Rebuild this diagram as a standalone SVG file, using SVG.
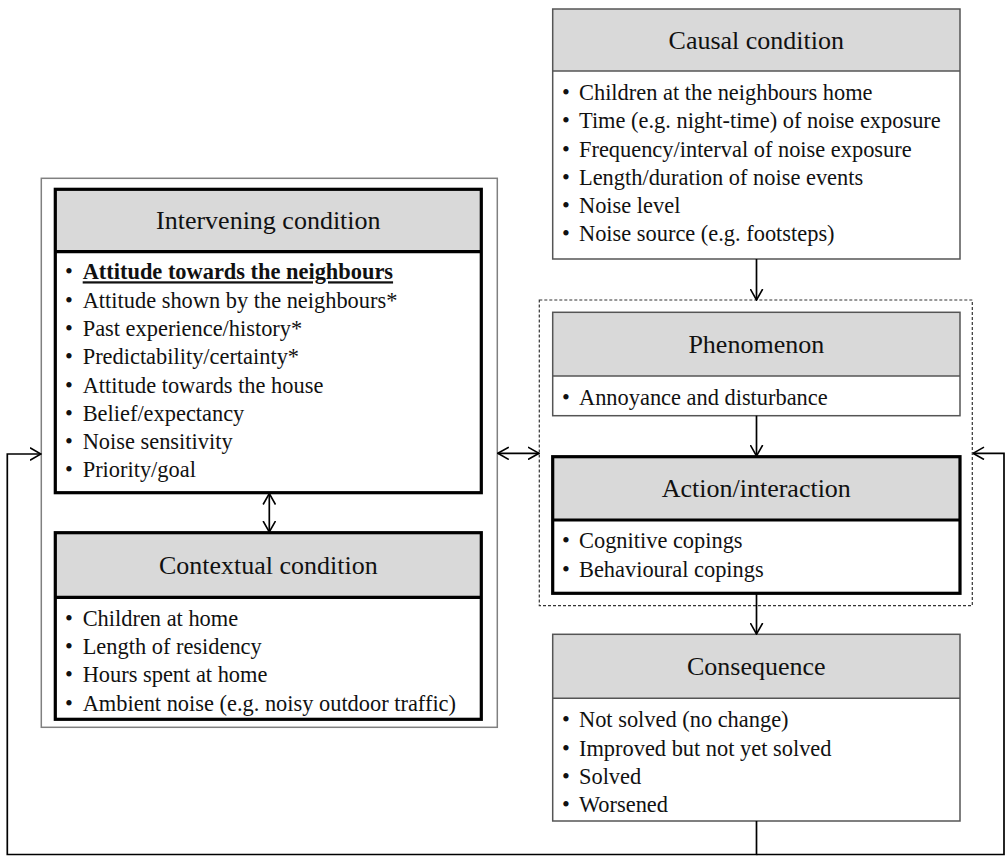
<svg xmlns="http://www.w3.org/2000/svg" width="1005" height="861" viewBox="0 0 1005 861">
<defs>
<marker id="ah" viewBox="0 0 12 14" refX="11.5" refY="7" markerWidth="12" markerHeight="14" orient="auto-start-reverse" markerUnits="userSpaceOnUse">
<path d="M0.5,0.8 L11.5,7 L0.5,13.2" fill="none" stroke="#000" stroke-width="1.6"/>
</marker>
<style>
.t{font-family:"Liberation Serif","Times New Roman",serif;font-size:26px;fill:#111;text-anchor:middle}
.b{font-family:"Liberation Serif","Times New Roman",serif;font-size:22.4px;fill:#111}
.hd{fill:#d9d9d9}
.thin{fill:none;stroke:#555;stroke-width:1.5}
.thick{fill:none;stroke:#000;stroke-width:3.2}
.c{fill:none;stroke:#000;stroke-width:1.7}
</style>
</defs>
<rect width="1005" height="861" fill="#fff"/>

<!-- outer group box -->
<rect x="41.3" y="178.3" width="456" height="549" fill="none" stroke="#808080" stroke-width="1.5"/>
<!-- dashed box -->
<rect x="539.3" y="300" width="433" height="305.7" fill="none" stroke="#333" stroke-width="1.2" stroke-dasharray="3,2"/>

<g id="causal">
<rect x="552.7" y="9" width="407.3" height="62" class="hd"/>
<rect x="552.7" y="9" width="407.3" height="250" class="thin"/>
<line x1="552.7" y1="71" x2="960" y2="71" class="thin"/>
<text x="756.3" y="49" class="t">Causal condition</text>
<g class="b">
<text x="562" y="100">•</text><text x="579" y="100">Children at the neighbours home</text>
<text x="562" y="128.3">•</text><text x="579" y="128.3">Time (e.g. night-time) of noise exposure</text>
<text x="562" y="156.5">•</text><text x="579" y="156.5">Frequency/interval of noise exposure</text>
<text x="562" y="184.7">•</text><text x="579" y="184.7">Length/duration of noise events</text>
<text x="562" y="212.8">•</text><text x="579" y="212.8">Noise level</text>
<text x="562" y="241">•</text><text x="579" y="241">Noise source (e.g. footsteps)</text>
</g>
</g>

<g id="intervening">
<rect x="55.3" y="189.3" width="426" height="62.4" class="hd"/>
<rect x="55.3" y="189.3" width="426" height="303.4" class="thick"/>
<line x1="55.3" y1="251.7" x2="481.3" y2="251.7" class="thick"/>
<text x="268.3" y="229.3" class="t">Intervening condition</text>
<g class="b">
<text x="65" y="279.3">•</text><text x="82.7" y="279.3" font-weight="bold" text-decoration="underline">Attitude towards the neighbours</text>
<text x="65" y="307.6">•</text><text x="82.7" y="307.6">Attitude shown by the neighbours*</text>
<text x="65" y="335.9">•</text><text x="82.7" y="335.9">Past experience/history*</text>
<text x="65" y="364.2">•</text><text x="82.7" y="364.2">Predictability/certainty*</text>
<text x="65" y="392.5">•</text><text x="82.7" y="392.5">Attitude towards the house</text>
<text x="65" y="420.8">•</text><text x="82.7" y="420.8">Belief/expectancy</text>
<text x="65" y="449.1">•</text><text x="82.7" y="449.1">Noise sensitivity</text>
<text x="65" y="477.4">•</text><text x="82.7" y="477.4">Priority/goal</text>
</g>
</g>

<g id="contextual">
<rect x="55.3" y="532.7" width="426" height="64.6" class="hd"/>
<rect x="55.3" y="532.7" width="426" height="186.6" class="thick"/>
<line x1="55.3" y1="597.3" x2="481.3" y2="597.3" class="thick"/>
<text x="268.3" y="574" class="t">Contextual condition</text>
<g class="b">
<text x="65" y="626">•</text><text x="82.7" y="626">Children at home</text>
<text x="65" y="654.2">•</text><text x="82.7" y="654.2">Length of residency</text>
<text x="65" y="682.4">•</text><text x="82.7" y="682.4">Hours spent at home</text>
<text x="65" y="710.6">•</text><text x="82.7" y="710.6">Ambient noise (e.g. noisy outdoor traffic)</text>
</g>
</g>

<g id="phenomenon">
<rect x="552.7" y="312.3" width="407.3" height="63.7" class="hd"/>
<rect x="552.7" y="312.3" width="407.3" height="103.4" class="thin"/>
<line x1="552.7" y1="376" x2="960" y2="376" class="thin"/>
<text x="756.3" y="353.3" class="t">Phenomenon</text>
<g class="b">
<text x="562" y="405">•</text><text x="579" y="405">Annoyance and disturbance</text>
</g>
</g>

<g id="action">
<rect x="552.7" y="456.7" width="407.3" height="63.3" class="hd"/>
<rect x="552.7" y="456.7" width="407.3" height="136.6" class="thick"/>
<line x1="552.7" y1="520" x2="960" y2="520" class="thick"/>
<text x="756.3" y="497.3" class="t">Action/interaction</text>
<g class="b">
<text x="562" y="548.3">•</text><text x="579" y="548.3">Cognitive copings</text>
<text x="562" y="576.7">•</text><text x="579" y="576.7">Behavioural copings</text>
</g>
</g>

<g id="consequence">
<rect x="552.7" y="634.3" width="407.3" height="64" class="hd"/>
<rect x="552.7" y="634.3" width="407.3" height="186.7" class="thin"/>
<line x1="552.7" y1="698.3" x2="960" y2="698.3" class="thin"/>
<text x="756.3" y="675" class="t">Consequence</text>
<g class="b">
<text x="562" y="727.3">•</text><text x="579" y="727.3">Not solved (no change)</text>
<text x="562" y="755.7">•</text><text x="579" y="755.7">Improved but not yet solved</text>
<text x="562" y="784">•</text><text x="579" y="784">Solved</text>
<text x="562" y="812.3">•</text><text x="579" y="812.3">Worsened</text>
</g>
</g>

<g id="connectors">
<line x1="756.5" y1="259" x2="756.5" y2="300" class="c" marker-end="url(#ah)"/>
<line x1="756.5" y1="415.7" x2="756.5" y2="456" class="c" marker-end="url(#ah)"/>
<line x1="756.5" y1="593.3" x2="756.5" y2="634" class="c" marker-end="url(#ah)"/>
<line x1="269.3" y1="493.5" x2="269.3" y2="532" class="c" marker-start="url(#ah)" marker-end="url(#ah)"/>
<line x1="497.8" y1="453.3" x2="539" y2="453.3" class="c" marker-start="url(#ah)" marker-end="url(#ah)"/>
<polyline points="756.5,821 756.5,854.5 7.3,854.5 7.3,454 41,454" class="c" marker-end="url(#ah)"/>
<polyline points="756.5,854.5 1004,854.5 1004,453.3 973,453.3" class="c" marker-end="url(#ah)"/>
</g>
</svg>
